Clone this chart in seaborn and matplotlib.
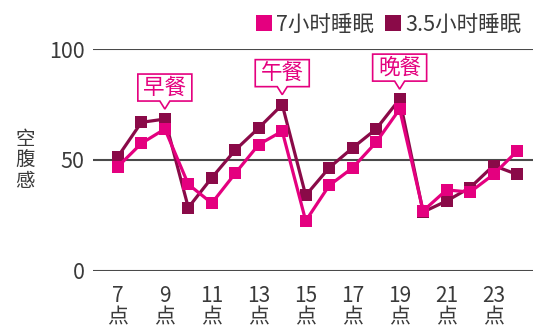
import matplotlib
matplotlib.use("Agg")
import matplotlib.pyplot as plt
import matplotlib.transforms as mtransforms
from matplotlib.patches import Polygon
from matplotlib.lines import Line2D
import seaborn as sns
import pandas as pd

# ---- data ----
hours = list(range(7, 25))
sleep7 = [47, 57.5, 64, 39, 30.5, 44, 57, 63, 22.5, 38.5, 46.5, 58, 73, 27, 36.5, 35.5, 43.5, 54]
sleep35 = [51.5, 67, 68.5, 28.5, 42, 54.5, 64.5, 75, 34, 46.5, 55.5, 64, 77.5, 26.5, 31.5, 37.5, 47.5, 43.5]
series_names = ["7小时睡眠", "3.5小时睡眠"]
xtick_hours = [7, 9, 11, 13, 15, 17, 19, 21, 23]
xtick_labels = [f"{h}\n点" for h in xtick_hours]
yticks = [0, 50, 100]
meal_hours = [9, 14, 19]
meal_labels = ["早餐", "午餐", "晚餐"]
ylabel = "空\n腹\n感"

PINK = "#e4007f"
DARK = "#8a0a48"
GRID = "#4a4a4a"
TXT = "#3a3a3a"

sns.set_theme(style="white")
plt.rcParams["font.family"] = ["Noto Sans CJK SC", "DejaVu Sans"]
plt.rcParams["font.weight"] = "light"

df = pd.DataFrame({
    "hour": hours * 2,
    "value": sleep35 + sleep7,
    "series": [series_names[1]] * len(hours) + [series_names[0]] * len(hours),
})

fig = plt.figure(figsize=(5.5, 3.35), dpi=100)
ax = fig.add_axes([93 / 550, 1 - 270.7 / 335, (533 - 93) / 550, (270.7 - 49.3) / 335])

sns.lineplot(data=df, x="hour", y="value", hue="series",
             hue_order=[series_names[1], series_names[0]],
             palette=[DARK, PINK], marker="s", markersize=8.5,
             markeredgewidth=0, linewidth=2.3, dashes=False,
             legend=False, ax=ax, clip_on=False)

ax.set_xlim(5.94, 24.68)
ax.set_ylim(0, 100)
for s in ax.spines.values():
    s.set_visible(False)
ax.set_yticks(yticks)
ax.set_yticklabels([str(v) for v in yticks])
ax.yaxis.grid(True, color=GRID, linewidth=1.5)
ax.set_axisbelow(True)
ax.set_xticks(xtick_hours)
ax.set_xticklabels(xtick_labels, linespacing=1.0)
ax.tick_params(axis="x", length=0, pad=10, labelsize=15, labelcolor=TXT)
ax.tick_params(axis="y", length=0, pad=6, labelsize=15.5, labelcolor=TXT)
ax.set_xlabel("")
ax.set_ylabel("")

fig.text(25 / 550, 1 - 160 / 335, ylabel, ha="center", va="center",
         fontsize=14, color=TXT, linespacing=1.0)

# callouts
for h, lab in zip(meal_hours, meal_labels):
    i = hours.index(h)
    top = max(sleep7[i], sleep35[i])
    tip = 10
    b = tip + 8
    hgt = 27
    w = 27
    verts = [(-w, b), (-5, b), (0, tip), (5, b), (w, b), (w, b + hgt), (-w, b + hgt)]
    tr = mtransforms.Affine2D() + mtransforms.ScaledTranslation(h, top, ax.transData)
    poly = Polygon(verts, closed=True, transform=tr, facecolor="white",
                   edgecolor=PINK, linewidth=1.2, clip_on=False, zorder=5)
    ax.add_patch(poly)
    ax.annotate(lab, xy=(h, top), xytext=(0, (b + hgt / 2) * 0.72),
                textcoords="offset points", ha="center", va="center",
                fontsize=15.5, color=PINK, zorder=6)

handles = [Line2D([], [], marker="s", linestyle="none", markersize=11,
                  markeredgewidth=0, color=c) for c in (PINK, DARK)]
fig.legend(handles, series_names, loc="upper right",
           bbox_to_anchor=(530 / 550, 1 - 5 / 335), ncol=2, frameon=False,
           fontsize=15.5, handlelength=0.8, handletextpad=0.15,
           columnspacing=0.5, borderaxespad=0, labelcolor=TXT)

fig.savefig("out.png", dpi=100)
